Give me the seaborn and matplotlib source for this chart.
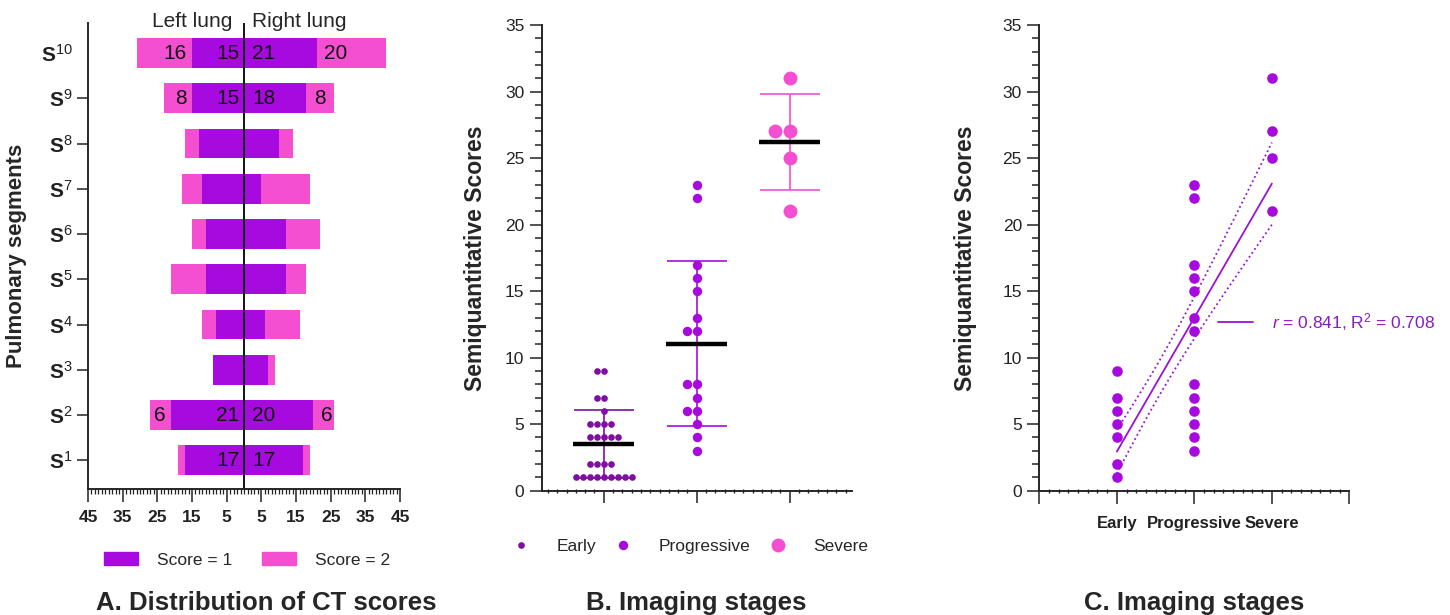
import numpy as np
import pandas as pd
import matplotlib
matplotlib.use('Agg')
import matplotlib.pyplot as plt
from matplotlib.ticker import MultipleLocator
from matplotlib.patches import Patch
from matplotlib.lines import Line2D
import seaborn as sns

# Panel A: counts of CT scores per pulmonary segment
segments = ['S10', 'S9', 'S8', 'S7', 'S6', 'S5', 'S4', 'S3', 'S2', 'S1']
left_score1 = [15, 15, 13, 12, 11, 11, 8, 9, 21, 17]
left_score2 = [16, 8, 4, 6, 4, 10, 4, 0, 6, 2]
right_score1 = [21, 18, 10, 5, 12, 12, 6, 7, 20, 17]
right_score2 = [20, 8, 4, 14, 10, 6, 10, 2, 6, 2]
score1_labelled = ['S10', 'S9', 'S2', 'S1']
score2_labelled = ['S10', 'S9', 'S2']

# Panels B and C: semiquantitative scores per imaging stage
stages = ['Early', 'Progressive', 'Severe']
early_scores = [9, 9, 7, 7, 6, 5, 5, 5, 5, 4, 4, 4, 4, 4, 2, 2, 2, 2,
                1, 1, 1, 1, 1, 1, 1, 1, 1]
progressive_scores = [23, 22, 17, 16, 15, 13, 12, 12, 8, 8, 7, 6, 6, 5, 4, 3]
severe_scores = [31, 27, 27, 25, 21]

PURPLE = '#A70ADE'
PINK = '#F34FD0'
DARK_PURPLE = '#7E0FA0'
LINE_PURPLE = '#9A12D4'
TEXT_PURPLE = '#8A1CBF'
stage_colors = [DARK_PURPLE, PURPLE, PINK]
stage_sizes = [4.8, 6.8, 10]

sns.set_style('ticks')
plt.rcParams['font.family'] = ['Liberation Sans', 'DejaVu Sans']
plt.rcParams['mathtext.fontset'] = 'custom'
plt.rcParams['mathtext.rm'] = 'Liberation Sans'
plt.rcParams['mathtext.it'] = 'Liberation Sans:italic'
plt.rcParams['mathtext.bf'] = 'Liberation Sans:bold'
plt.rcParams['axes.linewidth'] = 1.4
plt.rcParams['xtick.color'] = '#222222'
plt.rcParams['ytick.color'] = '#222222'

fig = plt.figure(figsize=(14.5, 6.15), dpi=100)
axA = fig.add_axes([0.0607, 0.2044, 0.2152, 0.7587])
axB = fig.add_axes([0.3736, 0.2021, 0.2138, 0.7572])
axC = fig.add_axes([0.7168, 0.2021, 0.2138, 0.7572])

# ---------- A. Distribution of CT scores ----------
seg = pd.DataFrame({'segment': segments, 'l1': left_score1, 'l2': left_score2,
                    'r1': right_score1, 'r2': right_score2})
seg['left_total'] = -(seg['l1'] + seg['l2'])
seg['left_s1'] = -seg['l1']
seg['right_total'] = seg['r1'] + seg['r2']
seg['right_s1'] = seg['r1']

for col, colr in [('left_total', PINK), ('left_s1', PURPLE),
                  ('right_total', PINK), ('right_s1', PURPLE)]:
    sns.barplot(data=seg, x=col, y='segment', order=segments, orient='h',
                color=colr, saturation=1, width=0.66, linewidth=0,
                errorbar=None, ax=axA)

kw = dict(fontsize=15, va='center', color='#111111')
for _, row in seg.iterrows():
    y = segments.index(row['segment'])
    if row['segment'] in score1_labelled:
        axA.text(-1.4, y, str(row['l1']), ha='right', **kw)
        axA.text(2.4, y, str(row['r1']), ha='left', **kw)
    if row['segment'] in score2_labelled:
        axA.text(-row['l1'] - 1.6, y, str(row['l2']), ha='right', **kw)
        axA.text(row['r1'] + 2.1, y, str(row['r2']), ha='left', **kw)

axA.axvline(0, color='black', lw=1.3)
axA.text(-3.3, -0.58, 'Left lung', ha='right', va='baseline', fontsize=15)
axA.text(2.4, -0.58, 'Right lung', ha='left', va='baseline', fontsize=15)

axA.set_xlim(-45, 45)
axA.set_ylim(9.64, -0.67)
axA.set_xticks(np.arange(-45, 46, 10))
axA.set_xticklabels([str(abs(v)) for v in np.arange(-45, 46, 10)],
                    fontsize=12.5, fontweight='bold')
axA.xaxis.set_minor_locator(MultipleLocator(1))
axA.set_yticks(range(len(segments)))
axA.set_yticklabels([r'$\mathbf{S}^{\mathrm{%s}}$' % s[1:] for s in segments],
                    fontsize=15)
axA.tick_params(axis='x', which='major', length=9, width=1.1, pad=6)
axA.tick_params(axis='x', which='minor', length=3.3, width=0.9)
axA.tick_params(axis='y', length=8, width=1.1, pad=3)
axA.yaxis.get_major_ticks()[0].tick1line.set_visible(False)
axA.set_xlabel('')
axA.set_ylabel('Pulmonary segments', fontsize=16, fontweight='bold')
axA.yaxis.set_label_coords(-0.195, 0.5)
sns.despine(ax=axA)

fig.legend(handles=[Patch(color=PURPLE, label='Score = 1'),
                    Patch(color=PINK, label='Score = 2')],
           loc='center left', bbox_to_anchor=(104 / 1450, 1 - 560 / 615),
           ncol=2, frameon=False, fontsize=12.5, handlelength=1.95,
           handleheight=0.7, handletextpad=1.1, columnspacing=1.7,
           borderpad=0, borderaxespad=0)

# ---------- B. Imaging stages (scatter dot plot) ----------
scores = pd.DataFrame({
    'stage': ['Early'] * len(early_scores) + ['Progressive'] * len(progressive_scores)
             + ['Severe'] * len(severe_scores),
    'score': early_scores + progressive_scores + severe_scores,
})

for stage, colr, size in zip(stages, stage_colors, stage_sizes):
    sns.swarmplot(data=scores[scores['stage'] == stage], x='stage', y='score',
                  order=stages, color=colr, size=size, linewidth=0,
                  ax=axB, zorder=2)

summary = scores.groupby('stage')['score'].agg(['mean', 'std']).reindex(stages)
for i, stage in enumerate(stages):
    m, sd = summary.loc[stage, 'mean'], summary.loc[stage, 'std']
    axB.errorbar(i, m, yerr=sd, color=stage_colors[i], capsize=21.6,
                 elinewidth=1.2, capthick=1.2, zorder=3)
    axB.hlines(m, i - 0.33, i + 0.33, color='black', lw=3.2, zorder=4)

axB.set_xlim(-0.667, 2.667)
axB.set_ylim(0, 35)
axB.set_xticks(range(len(stages)))
axB.set_xticklabels([''] * len(stages))
axB.xaxis.set_minor_locator(MultipleLocator(0.1))
axB.yaxis.set_major_locator(MultipleLocator(5))
axB.yaxis.set_minor_locator(MultipleLocator(1))
axB.tick_params(axis='x', which='major', length=8.6, width=1.1)
axB.tick_params(axis='x', which='minor', length=2.5, width=1, direction='inout')
axB.tick_params(axis='y', which='major', length=9, width=1.1, labelsize=12.5)
axB.tick_params(axis='y', which='minor', length=4.8, width=1.1)
axB.set_xlabel('')
axB.set_ylabel('Semiquantitative Scores', fontsize=16.5, fontweight='bold')
axB.yaxis.set_label_coords(-0.176, 0.5)
sns.despine(ax=axB)

fig.legend(handles=[Line2D([], [], marker='o', ls='', color=c, markersize=s,
                           markeredgewidth=0, label=st)
                    for st, c, s in zip(stages, stage_colors, stage_sizes)],
           loc='center left', bbox_to_anchor=(504 / 1450, 1 - 546.7 / 615),
           ncol=3, frameon=False, fontsize=12.5, handlelength=2.0,
           handletextpad=1.05, columnspacing=0.55, borderpad=0, borderaxespad=0)

# ---------- C. Imaging stages (linear regression) ----------
scores['pos'] = scores['stage'].map({s: i + 1 for i, s in enumerate(stages)})
unique_pts = scores.drop_duplicates(['stage', 'score'])
sns.scatterplot(data=unique_pts, x='pos', y='score', color=PURPLE, s=58,
                linewidth=0, ax=axC, zorder=3)

x = scores['pos'].to_numpy(float)
y = scores['score'].to_numpy(float)
slope, intercept = np.polyfit(x, y, 1)
r = np.corrcoef(x, y)[0, 1]
n = len(x)
resid_sd = np.sqrt(np.sum((y - (slope * x + intercept)) ** 2) / (n - 2))
sxx = np.sum((x - x.mean()) ** 2)
xs = np.linspace(1, 3, 60)
fit = slope * xs + intercept
half = 2.013 * resid_sd * np.sqrt(1 / n + (xs - x.mean()) ** 2 / sxx)
axC.plot(xs, fit, color=LINE_PURPLE, lw=1.3, zorder=2)
axC.plot(xs, fit + half, color=LINE_PURPLE, lw=1.3, ls=':', zorder=2)
axC.plot(xs, fit - half, color=LINE_PURPLE, lw=1.3, ls=':', zorder=2)

axC.set_xlim(0, 4)
axC.set_ylim(0, 35)
axC.set_xticks(range(5))
axC.set_xticklabels([''] + stages + [''], fontsize=12, fontweight='bold')
axC.xaxis.set_minor_locator(MultipleLocator(0.125))
axC.yaxis.set_major_locator(MultipleLocator(5))
axC.yaxis.set_minor_locator(MultipleLocator(1))
axC.tick_params(axis='x', which='major', length=9, width=1.1, pad=9)
axC.tick_params(axis='x', which='minor', length=2.5, width=1, direction='inout')
axC.tick_params(axis='y', which='major', length=9, width=1.1, labelsize=12.5)
axC.tick_params(axis='y', which='minor', length=4.8, width=1.1)
axC.set_xlabel('')
axC.set_ylabel('Semiquantitative Scores', fontsize=16.5, fontweight='bold')
axC.yaxis.set_label_coords(-0.201, 0.5)
sns.despine(ax=axC)

fig.legend(handles=[Line2D([], [], color=LINE_PURPLE, lw=1.3,
                           label=r'$\mathit{r}$ = %.3f, R$^2$ = %.3f' % (r, r ** 2))],
           loc='center left', bbox_to_anchor=(1218 / 1450, 1 - 322 / 615),
           frameon=False, fontsize=12.5, labelcolor=TEXT_PURPLE,
           handlelength=2.0, handletextpad=1.1, borderpad=0, borderaxespad=0)

# panel captions
for cx, caption in [(266, 'A. Distribution of CT scores'),
                    (696, 'B. Imaging stages'), (1194, 'C. Imaging stages')]:
    fig.text(cx / 1450, 1 - 610 / 615, caption, ha='center', va='baseline',
             fontsize=18.5, fontweight='bold')

fig.savefig('out.png', dpi=100)
